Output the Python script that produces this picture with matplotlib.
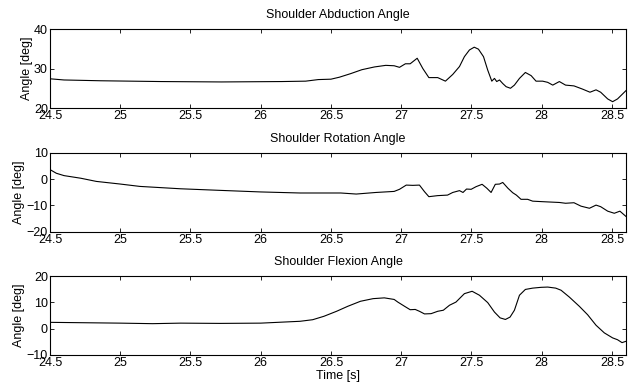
import matplotlib
matplotlib.use("Agg")
import matplotlib.pyplot as plt
import numpy as np

plt.rcParams['font.family'] = ['Liberation Sans', 'DejaVu Sans']
plt.rcParams['font.size'] = 9

# values (time [s], angle [deg])
abd_t = [24.5, 24.6, 24.86, 25.29, 25.72, 26.15, 26.32, 26.41, 26.5, 26.56,
         26.64, 26.72, 26.81, 26.89, 26.95, 26.988, 27.03, 27.064, 27.114, 27.154,
         27.197, 27.26, 27.315, 27.367, 27.415, 27.45, 27.486, 27.52, 27.55, 27.586,
         27.616, 27.645, 27.664, 27.68, 27.70, 27.723, 27.747, 27.778, 27.806, 27.842,
         27.884, 27.925, 27.96, 28.007, 28.043, 28.079, 28.126, 28.17, 28.23, 28.29,
         28.344, 28.387, 28.42, 28.47, 28.505, 28.54, 28.6]
abd_v = [27.4, 27.1, 26.9, 26.7, 26.6, 26.7, 26.8, 27.2, 27.3, 27.8,
         28.7, 29.7, 30.4, 30.8, 30.7, 30.3, 31.2, 31.2, 32.6, 30.0,
         27.7, 27.7, 26.8, 28.5, 30.5, 33.0, 34.7, 35.4, 34.9, 33.0,
         29.6, 26.8, 27.5, 26.7, 27.1, 26.2, 25.4, 25.0, 25.8, 27.5,
         29.0, 28.2, 26.8, 26.8, 26.5, 25.8, 26.7, 25.8, 25.6, 24.8,
         24.0, 24.6, 24.0, 22.3, 21.6, 22.3, 24.4]

rot_t = [24.5, 24.545, 24.6, 24.72, 24.83, 25.0, 25.14, 25.43, 25.71, 26.0,
         26.28, 26.57, 26.68, 26.82, 26.95, 26.988, 27.036, 27.083, 27.13, 27.166,
         27.197, 27.26, 27.33, 27.367, 27.415, 27.44, 27.465, 27.498, 27.533, 27.576,
         27.61, 27.64, 27.67, 27.70, 27.723, 27.76, 27.794, 27.82, 27.853, 27.9,
         27.936, 28.007, 28.126, 28.17, 28.23, 28.28, 28.34, 28.387, 28.42, 28.47,
         28.517, 28.557, 28.6]
rot_v = [3.6, 2.2, 1.3, 0.3, -0.9, -1.9, -2.8, -3.7, -4.3, -4.9,
         -5.3, -5.3, -5.7, -5.1, -4.7, -3.9, -2.3, -2.4, -2.3, -4.8,
         -6.7, -6.3, -6.1, -5.1, -4.4, -5.1, -3.8, -3.9, -2.9, -2.0,
         -3.5, -5.1, -2.0, -1.9, -1.3, -3.5, -5.2, -6.1, -7.7, -7.7,
         -8.4, -8.6, -8.9, -9.2, -9.0, -10.3, -11.1, -9.9, -10.5, -12.2,
         -13.0, -12.2, -14.2]

flex_t = [24.5, 25.0, 25.23, 25.43, 25.71, 26.0, 26.28, 26.37, 26.45, 26.54,
          26.62, 26.71, 26.8, 26.88, 26.95, 26.976, 27.024, 27.064, 27.10, 27.13,
          27.166, 27.213, 27.26, 27.30, 27.344, 27.39, 27.45, 27.505, 27.557, 27.616,
          27.664, 27.704, 27.742, 27.775, 27.806, 27.842, 27.884, 27.936, 27.996, 28.043,
          28.10, 28.138, 28.197, 28.268, 28.327, 28.387, 28.446, 28.505, 28.54, 28.572,
          28.6]
flex_v = [2.4, 2.1, 1.9, 2.1, 2.0, 2.1, 2.8, 3.4, 4.7, 6.6,
          8.5, 10.4, 11.4, 11.7, 11.1, 10.1, 8.5, 7.2, 7.3, 6.6,
          5.6, 5.7, 6.6, 7.0, 8.9, 10.1, 13.3, 14.2, 12.7, 9.9,
          6.3, 4.1, 3.5, 4.4, 7.0, 12.7, 14.9, 15.4, 15.7, 15.8,
          15.4, 14.6, 12.0, 8.5, 5.3, 1.3, -1.6, -3.5, -4.2, -5.3,
          -4.8]

titles = ["Shoulder Abduction Angle", "Shoulder Rotation Angle", "Shoulder Flexion Angle"]
yticks = [[20, 30, 40], [-20, -10, 0, 10], [-10, 0, 10, 20]]
xticks = [24.5, 25, 25.5, 26, 26.5, 27, 27.5, 28, 28.5]
xticklabels = ["24.5", "25", "25.5", "26", "26.5", "27", "27.5", "28", "28.5"]

fig = plt.figure(figsize=(6.31, 3.87), dpi=100)
bottoms = [0.7209, 0.4013, 0.0827]
series = [(abd_t, abd_v), (rot_t, rot_v), (flex_t, flex_v)]

for i in range(3):
    ax = fig.add_axes([0.0792, bottoms[i], 0.9128, 0.2041])
    t, v = series[i]
    ax.plot(t, v, color="black", lw=0.8)
    ax.set_xlim(24.5, 28.6)
    ax.set_ylim(yticks[i][0], yticks[i][-1])
    ax.set_yticks(yticks[i])
    ax.set_xticks(xticks)
    ax.set_xticklabels(xticklabels)
    ax.tick_params(direction="in", top=True, right=True, length=3, width=0.6,
                   labelsize=9)
    ax.tick_params(axis="y", pad=1.5)
    ax.tick_params(axis="x", pad=1.5)
    for s in ax.spines.values():
        s.set_linewidth(0.8)
    ax.set_title(titles[i], fontsize=9, pad=8)
    ax.set_ylabel("Angle [deg]", fontsize=9, labelpad=1)
    if i == 2:
        ax.set_xlabel("Time [s]", fontsize=9, labelpad=1)

fig.savefig("out.png", dpi=100)
